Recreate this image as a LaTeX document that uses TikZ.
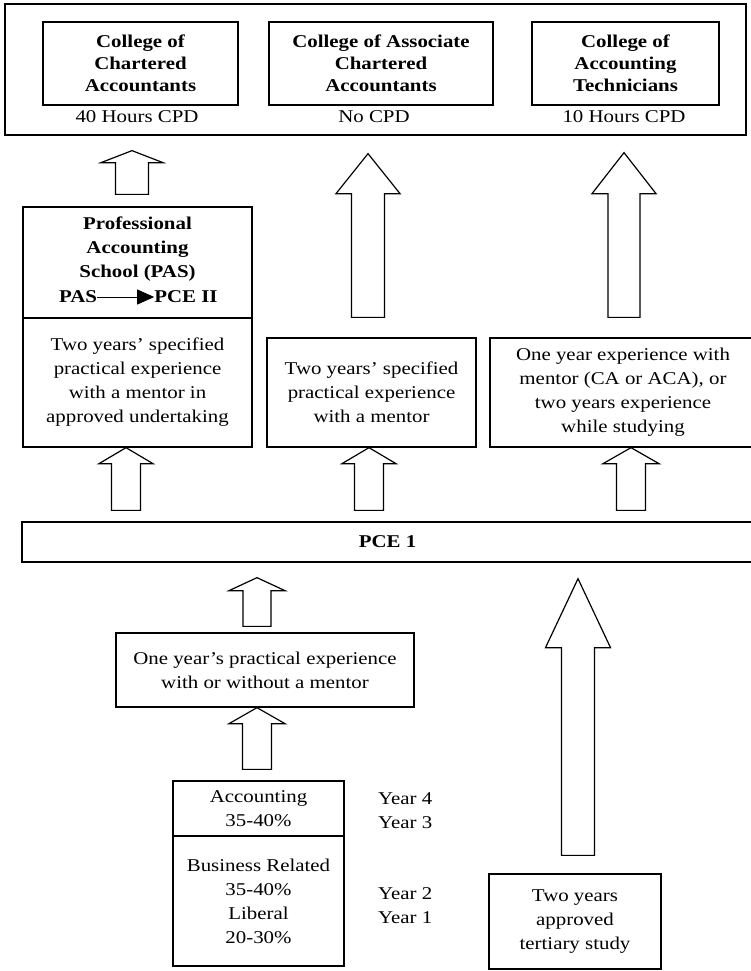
\documentclass[tikz,border=0pt]{standalone}
\usepackage{fontspec}
\setmainfont{Liberation Serif}[FakeStretch=1.16]
\usetikzlibrary{positioning,arrows.meta,calc}

% flèche creuse verticale : x, pied, pointe, demi-largeur tige, demi-largeur tête, longueur tête
\newcommand{\blockup}[6]{%
  \draw[fleche] let \p1=#2, \p2=#3 in
    (#1pt-#4pt,\y1) -- (#1pt+#4pt,\y1) -- (#1pt+#4pt,\y2-#6pt) -- (#1pt+#5pt,\y2-#6pt)
    -- (#1pt,\y2) -- (#1pt-#5pt,\y2-#6pt) -- (#1pt-#4pt,\y2-#6pt) -- cycle;}

\begin{document}
\begin{tikzpicture}[
    x=1pt, y=-1pt,
    font=\fontsize{18}{24}\selectfont,
    bloc/.style={draw, line width=1.3pt, align=center, inner sep=0pt},
    gras/.style={font=\fontsize{18}{24}\selectfont\bfseries, align=center},
    entete/.style={bloc, gras, font=\fontsize{18}{22}\selectfont\bfseries, minimum height=83pt},
    fleche/.style={draw, line width=1.2pt, fill=white, line join=miter},
  ]
  \useasboundingbox (0,0) rectangle (751,971);

  % --- Colleges (haut) ---
  \node[bloc, minimum width=741pt, minimum height=131pt] (colleges) at (375.5,69.5) {};
  \node[entete, minimum width=195pt] (cca) at (140.5,63.5) {College of\\Chartered\\Accountants};
  \node[entete, minimum width=224pt] (caca) at (381,63.5) {College of Associate\\Chartered\\Accountants};
  \node[entete, minimum width=187pt] (cat) at (625.5,63.5) {College of\\Accounting\\Technicians};
  \node (cpd1) at (137,117) {40 Hours CPD};
  \node (cpd2) at (374,117) {No CPD};
  \node (cpd3) at (624,117) {10 Hours CPD};

  % --- PAS ---
  \node[bloc, minimum width=229pt, minimum height=111pt] (pastop) at (137.5,262.5) {};
  \node[gras] (pastitre) at (137.5,249) {Professional\\Accounting\\School (PAS)};
  \node[gras, inner sep=0pt] (pas) at (78,297) {PAS};
  \node[gras, inner sep=0pt] (pce2) at (186,297) {PCE II};
  \draw[-{Triangle[length=17pt,width=15pt]}, line width=1pt] (pas) -- (pce2);

  % --- Expérience pratique ---
  \node[bloc, minimum width=229pt, minimum height=129pt] (pasexp) at (137.5,382.5)
    {Two years' specified\\practical experience\\with a mentor in\\approved undertaking};
  \node[bloc, minimum width=209pt, minimum height=109pt] (midexp) at (371.5,392.5)
    {Two years' specified\\practical experience\\with a mentor};
  \node[bloc, minimum width=266pt, minimum height=109pt] (rightexp) at (623,392.5)
    {One year experience with\\mentor (CA or ACA), or\\two years experience\\while studying};

  % --- PCE 1 ---
  \node[bloc, gras, minimum width=731pt, minimum height=40pt] (pce) at (387.5,542) {PCE 1};

  % --- Bas ---
  \node[bloc, minimum width=298pt, minimum height=74pt] (oneyear) at (265,670)
    {One year's practical experience\\with or without a mentor};
  \node[bloc, minimum width=171pt, minimum height=55pt] (acc) at (258.5,808.5) {Accounting\\35-40\%};
  \node[bloc, minimum width=171pt, minimum height=130pt] (bus) at (258.5,901)
    {Business Related\\35-40\%\\Liberal\\20-30\%};
  \node[align=left, anchor=west, inner sep=0pt] (y43) at (378,811) {Year 4\\Year 3};
  \node[align=left, anchor=west, inner sep=0pt] (y21) at (378,905.5) {Year 2\\Year 1};
  \node[bloc, minimum width=172pt, minimum height=95pt] (tert) at (575,921.5)
    {Two years\\approved\\tertiary study};

  % Flèches vers les colleges
  \blockup{132}{($(pastop.north)+(0,-12)$)}{($(colleges.south)+(0,15)$)}{16.5}{31}{12}
  \blockup{368}{($(midexp.north)+(0,-20)$)}{($(colleges.south)+(0,18)$)}{16.5}{32}{40}
  \blockup{624}{($(rightexp.north)+(0,-20)$)}{($(colleges.south)+(0,17)$)}{16}{32}{41}
  % Flèches depuis PCE 1
  \blockup{126}{($(pce.north)+(0,-11)$)}{(pasexp.south)}{14.5}{27}{16}
  \blockup{369}{($(pce.north)+(0,-11)$)}{(midexp.south)}{14.5}{27}{16}
  \blockup{631}{($(pce.north)+(0,-11)$)}{(rightexp.south)}{14.5}{28}{16}
  % Flèches vers PCE 1
  \blockup{257}{($(oneyear.north)+(0,-6)$)}{($(pce.south)+(0,15)$)}{14}{28}{13}
  \blockup{257}{($(acc.north)+(0,-11)$)}{(oneyear.south)}{14.5}{28}{16}
  \blockup{578}{($(tert.north)+(0,-18)$)}{($(pce.south)+(0,16)$)}{16.5}{32.5}{69}
\end{tikzpicture}
\end{document}
